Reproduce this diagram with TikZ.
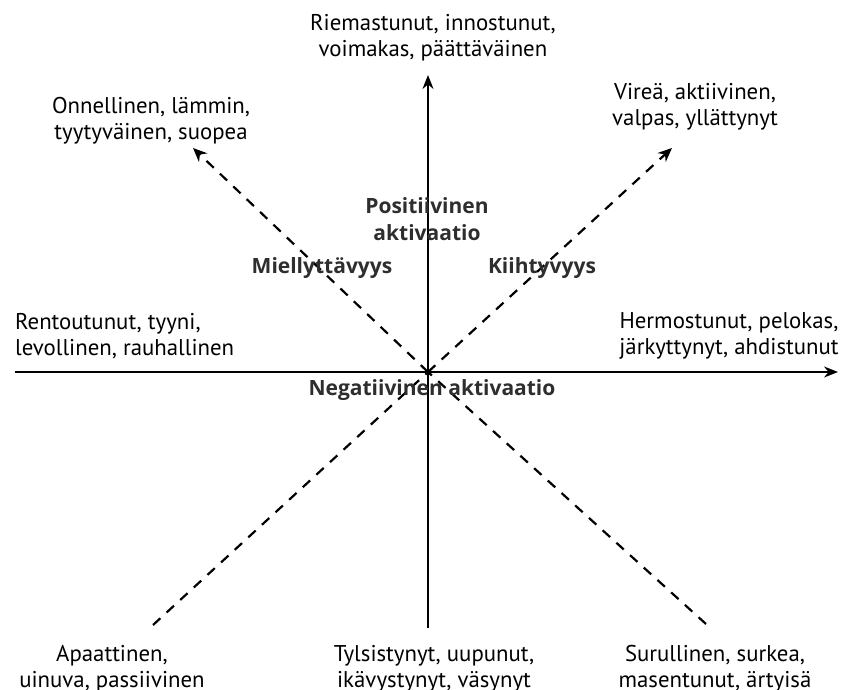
\documentclass[tikz,border=0pt]{standalone}
\usepackage{fontspec}
\setmainfont{PT Sans}
\newfontfamily\axfont{Open Sans}
\usetikzlibrary{arrows.meta}
\begin{document}
\begin{tikzpicture}[x=1pt,y=-1pt,
  lbl/.style={font=\fontsize{22.8}{26}\selectfont, align=center, inner sep=0pt},
  axlbl/.style={font=\axfont\bfseries\fontsize{21}{27}\selectfont, text=black!82, align=center, inner sep=0pt},
  axis/.style={line width=1.6pt, -{Stealth[length=14pt,width=11pt]}},
  diag/.style={line width=2.2pt, dash pattern=on 10pt off 8.5pt},
  diagarrow/.style={diag, -{Stealth[length=14pt,width=12pt]}}]
\useasboundingbox (0,0) rectangle (844,690);
% coordinates
\coordinate (O) at (428,372);
\coordinate (W) at (15,372);
\coordinate (E) at (838,372);
\coordinate (N) at (428,75);
\coordinate (S) at (428,628);
\coordinate (UL) at (193,148);
\coordinate (UR) at (672,148);
\coordinate (LL) at (153,625);
\coordinate (LR) at (706,624);
% axes
\draw[axis] (W) -- (E);
\draw[axis] (S) -- (N);
% diagonals
\draw[diag] (LL) -- (O);
\draw[diag] (LR) -- (O);
\draw[diagarrow] (O) -- (UL);
\draw[diagarrow] (O) -- (UR);
% labels
\node[lbl] (top) at (433,38) {Riemastunut, innostunut,\\voimakas, päättäväinen};
\node[lbl] (tl) at (151,121) {Onnellinen, lämmin,\\tyytyväinen, suopea};
\node[lbl] (tr) at (695,107) {Vireä, aktiivinen,\\valpas, yllättynyt};
\node[lbl, align=left, anchor=west] (left) at (15,336) {Rentoutunut, tyyni,\\levollinen, rauhallinen};
\node[lbl] (right) at (729,336) {Hermostunut, pelokas,\\järkyttynyt, ahdistunut};
\node[lbl] (bl) at (112,669) {Apaattinen,\\uinuva, passiivinen};
\node[lbl] (bc) at (434,669) {Tylsistynyt, uupunut,\\ikävystynyt, väsynyt};
\node[lbl] (br) at (715,669) {Surullinen, surkea,\\masentunut, ärtyisä};
% axis labels
\node[axlbl] (pos) at (427,219) {Positiivinen\\aktivaatio};
\node[axlbl] (miel) at (322,268) {Miellyttävyys};
\node[axlbl] (kiih) at (542,268) {Kiihtyvyys};
\node[axlbl] (neg) at (432,390) {Negatiivinen aktivaatio};
\end{tikzpicture}
\end{document}
